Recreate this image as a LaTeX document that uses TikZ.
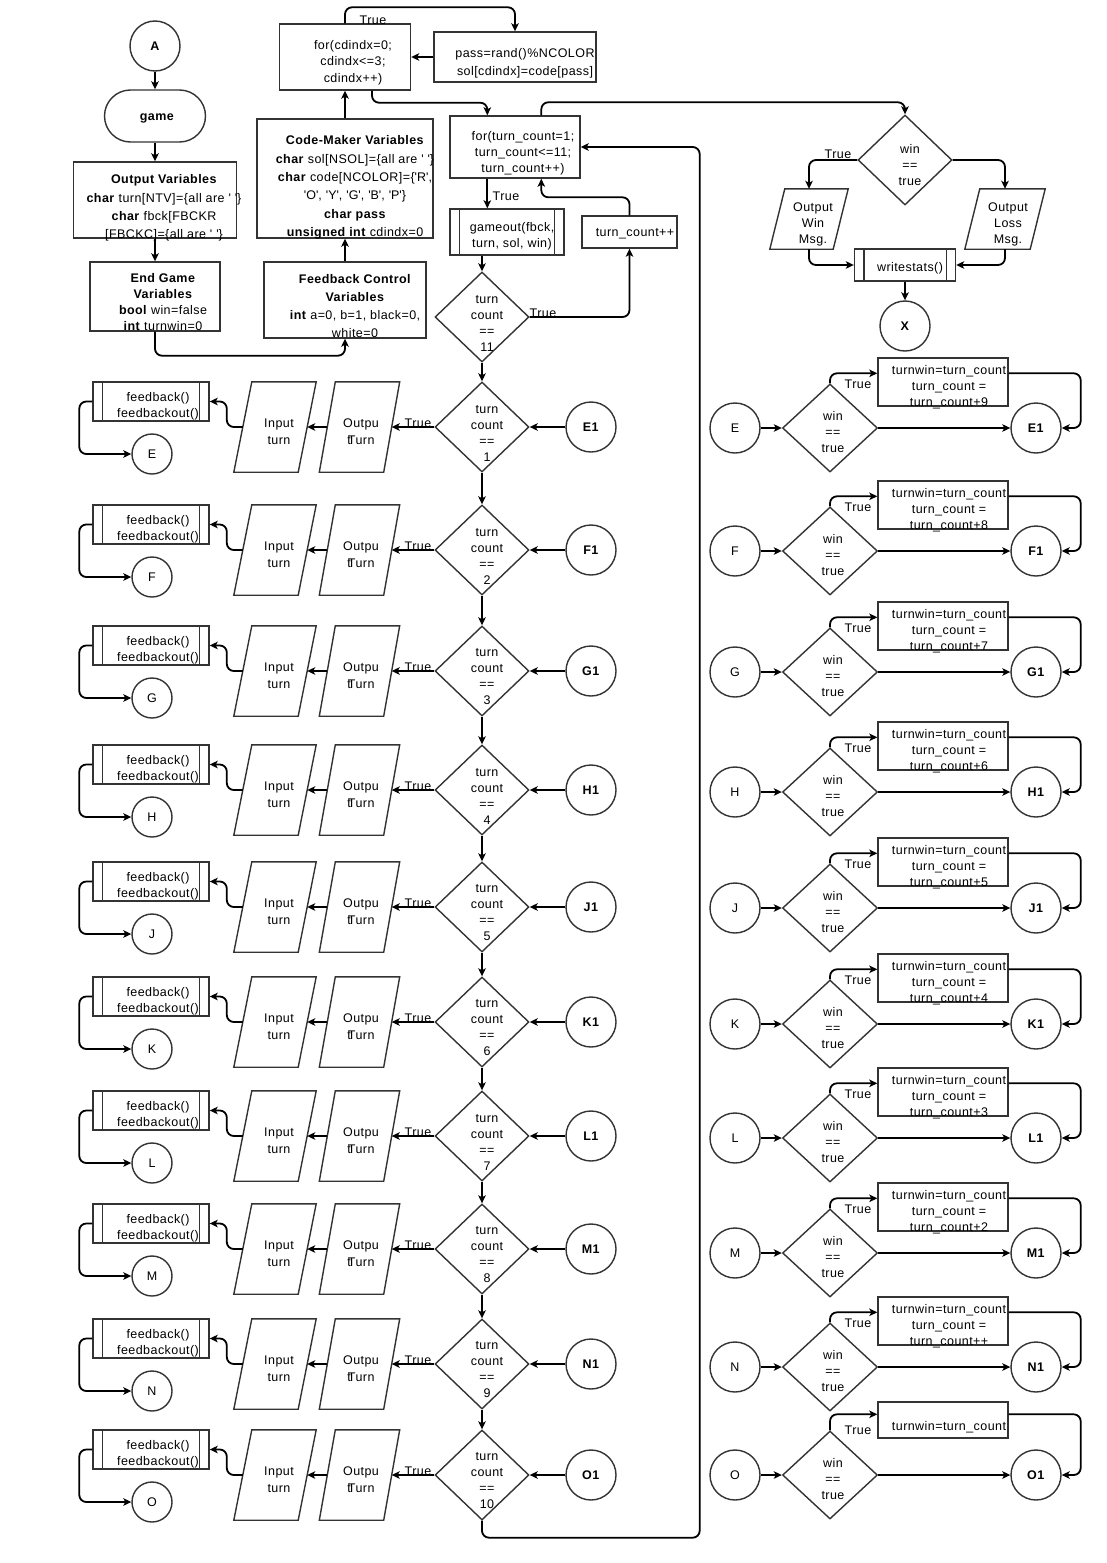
\documentclass[tikz,border=0pt]{standalone}
\usepackage{fontspec}
\setmainfont{Liberation Sans}[LetterSpace=3.5]
\usetikzlibrary{arrows.meta,calc,shapes.geometric}
\newcommand{\myq}{\textquotesingle}
\newcommand{\mypara}[2]{\draw[shpline,fill=white] ($(#1.north west)+(#2,0)$) -- ($(#1.north east)+(#2,0)$) -- ($(#1.south east)+(-#2,0)$) -- ($(#1.south west)+(-#2,0)$) -- cycle;}
\newcommand{\subr}[1]{\draw[shpline] ($(#1.north west)+(10,0)$) -- ($(#1.south west)+(10,0)$); \draw[shpline] ($(#1.north east)+(-10,0)$) -- ($(#1.south east)+(-10,0)$);}
\begin{document}
\begin{tikzpicture}[x=1pt,y=-1pt,
  every node/.style={font=\fontsize{12.5}{16}\selectfont},
  shpline/.style={draw=black!80,line width=1.4pt},
  shp/.style={shpline,fill=white,inner sep=0pt},
  sz/.style 2 args={minimum width=#1pt,minimum height=#2pt},
  helper/.style={inner sep=0pt,draw=none},
  circ/.style={shp,circle,minimum size=50pt},
  dia/.style={shp,diamond,minimum width=94pt,minimum height=90pt},
  txt/.style={align=center,inner sep=0pt},
  txtw/.style={txt,font=\fontsize{12.5}{18.3}\selectfont},
  con/.style={draw=black,line width=1.8pt,rounded corners=7pt},
  arr/.style={con,-{Stealth[length=8pt,width=7.5pt,inset=2pt]}},
  lbl/.style={inner sep=0pt}
]
\fill[white] (0,0) rectangle (1106,1563);
\useasboundingbox (0,0) rectangle (1106,1563);

% ---------- top left ----------
\node[circ] (A) at (155,46) {\textbf{A}};
\node[shp,rounded corners=26pt,sz={101}{52}] (game) at (155,116) {};
\node[txt] (gameT) at (157,118.5) {\textbf{game}};
\node[shp,sz={163}{76}] (ov) at (155,200) {};
\node[txtw] (ovT) at (164,208) {\textbf{Output Variables}\\\textbf{char} turn[NTV]=\{all are \myq\ \myq\}\\\textbf{char} fbck[FBCKR\\{[}FBCKC]=\{all are \myq\ \myq\}};
\node[shp,sz={130}{69}] (eg) at (155,296.5) {};
\node[txt] (egT) at (163,302) {\textbf{End Game}\\\textbf{Variables}\\\textbf{bool} win=false\\\textbf{int} turnwin=0};
\node[shp,sz={162}{76}] (fcv) at (345,300) {};
\node[txt,font=\fontsize{12.5}{18}\selectfont] (fcvT) at (355,306) {\textbf{Feedback Control}\\\textbf{Variables}\\\textbf{int} a=0, b=1, black=0,\\white=0};
\node[shp,sz={176}{119}] (cm) at (345,178.5) {};
\node[txtw] (cmT) at (355,187.5) {\textbf{Code-Maker Variables}\\\textbf{char} sol[NSOL]=\{all are \myq\ \myq\}\\\textbf{char} code[NCOLOR]=\{\myq R\myq,\\\myq O\myq, \myq Y\myq, \myq G\myq, \myq B\myq, \myq P\myq\}\\\textbf{char pass}\\\textbf{unsigned int} cdindx=0};
\node[shp,sz={131}{66}] (forc) at (345,57) {};
\node[txt,font=\fontsize{12.5}{16.5}\selectfont] (forcT) at (353,62.5) {for(cdindx=0;\\cdindx<=3;\\cdindx++)};
\node[shp,sz={162}{50}] (pass) at (515,57) {};
\node[txt,font=\fontsize{12.5}{18}\selectfont] (passT) at (525,63) {pass=rand()\%NCOLOR\\sol[cdindx]=code[pass]};

\draw[arr] (A.south) -- (game.north);
\draw[arr] (game.south) -- (ov.north);
\draw[arr] (ov.south) -- (eg.north);
\draw[arr] (eg.south) -- ++(0,24) -| (fcv.south);
\draw[arr] (fcv.north) -- (cm.south);
\draw[arr] (cm.north) -- (forc.south);
\draw[arr] (pass.west) -- (forc.east);
\draw[arr] (forc.north) -- ++(0,-16) -| (pass.north);
\node[lbl] (t0) at (373,20) {True};

% ---------- turn loop ----------
\node[shp,sz={130}{62}] (tf) at (515,147) {};
\node[txt] (tfT) at (523,153) {for(turn\_count=1;\\turn\_count<=11;\\turn\_count++)};
\draw[arr] ($(forc.south)+(27,0)$) -- ++(0,12) -| ($(tf.north west)+(38,0)$);
\node[shp,sz={114}{46}] (go) at (507,232) {};
\subr{go}
\node[txt] (goT) at (512,236) {gameout(fbck,\\turn, sol, win)};
\draw[arr] ($(tf.south west)+(38,0)$) -- ($(go.north west)+(38,0)$);
\node[lbl] (t1) at (506,196) {True};
\node[shp,sz={95}{32}] (tcp) at (629.5,232) {};
\node[txt] (tcpT) at (635,234) {turn\_count++};
\draw[arr] (tcp.north) -- ++(0,-18) -| ($(tf.south west)+(92,0)$);
\node[dia] (d11) at (482,317) {};
\node[txt] (d11T) at (487,323.5) {turn\\count\\==\\11};
\draw[arr] (d11.north |- go.south) -- (d11.north);
\draw[arr] (d11.east) -| (tcp.south);
\node[lbl] (t2) at (543,313) {True};

% ---------- top right ----------
\node[dia] (win) at (905,160) {};
\node[txt] (winT) at (910,165) {win\\==\\true};
\draw[arr] ($(tf.north west)+(92,0)$) -- ++(0,-13) -| (win.north);
\node[helper,sz={63}{60}] (ow) at (809,219) {};
\mypara{ow}{7.5}
\node[txt] (owT) at (813,224) {Output\\Win\\Msg.};
\node[helper,sz={65}{60}] (lo) at (1005,219) {};
\mypara{lo}{7.5}
\node[txt] (loT) at (1008,224) {Output\\Loss\\Msg.};
\draw[arr] (win.west) -| (ow.north);
\node[lbl] (t3) at (838,154) {True};
\draw[arr] (win.east) -| (lo.north);
\node[shp,sz={101}{32}] (ws) at (905,265) {};
\subr{ws}
\node[txt] (wsT) at (910,268) {writestats()};
\draw[arr] (ow.south) |- (ws.west);
\draw[arr] (lo.south) |- (ws.east);
\node[circ] (X) at (905,326) {\textbf{X}};
\draw[arr] (ws.south) -- (X.north);

% ---------- left rows ----------
\foreach \i/\yy/\ltr in {1/427/E,2/550/F,3/671/G,4/790/H,5/907/J,6/1022/K,7/1136/L,8/1249/M,9/1364/N,10/1475/O}{
  \node[dia] (dL\i) at (482,\yy) {};
  \node[txt] (dLT\i) at (487,\yy+6) {turn\\count\\==\\\i};
  \node[circ] (cL\i) at (591,\yy) {\textbf{\ltr1}};
  \draw[arr] (cL\i.west) -- (dL\i.east);
  \node[helper,sz={64}{90}] (oL\i) at (359.5,\yy) {};
  \mypara{oL\i}{8}
  \node[txt,font=\fontsize{12.5}{17}\selectfont] (oLT\i) at (361,\yy+5) {Outpu\\t\kern-3pt Turn};
  \draw[arr] (dL\i.west) -- (oL\i.east);
  \node[lbl] (tL\i) at (418,\yy-4) {True};
  \node[helper,sz={64}{90}] (iL\i) at (275,\yy) {};
  \mypara{iL\i}{9}
  \node[txt,font=\fontsize{12.5}{17}\selectfont] (iLT\i) at (279,\yy+5) {Input\\turn};
  \draw[arr] (oL\i.west) -- (iL\i.east);
  \node[shp,sz={116}{39}] (fL\i) at (151,\yy-25.5) {};
  \subr{fL\i}
  \node[txt] (fLT\i) at (158,\yy-20.5) {feedback()\\feedbackout()};
  \draw[arr] (iL\i.west) -- ++(-16,0) |- (fL\i.east);
  \node[circ,minimum size=40pt] (eL\i) at (152,\yy+27) {\ltr};
  \draw[arr] (fL\i.west) -- ++(-13,0) |- (eL\i.west);
}
\foreach \i in {1,...,9}{\pgfmathtruncatemacro\j{\i+1}\draw[arr] (dL\i.south) -- (dL\j.north);}
\draw[arr] (d11.south) -- (dL1.north);
\draw[arr] (dL10.south) -- ++(0,17) -| ($(tf.east)+(119,0)$) -- (tf.east);

% ---------- right rows ----------
\foreach \i/\yy/\ltr/\nn in {1/428/E/+9,2/551/F/+8,3/672/G/+7,4/792/H/+6,5/908/J/+5,6/1024/K/+4,7/1138/L/+3,8/1253/M/+2,9/1367/N/++}{
  \node[circ] (cR\i) at (735,\yy) {\ltr};
  \node[dia,minimum width=95pt,minimum height=88pt] (dR\i) at (830,\yy) {};
  \node[txt] (dRT\i) at (833,\yy+4) {win\\==\\true};
  \draw[arr] (cR\i.east) -- (dR\i.west);
  \node[circ] (cS\i) at (1036,\yy) {\textbf{\ltr1}};
  \draw[arr] (dR\i.east) -- (cS\i.west);
  \node[shp,sz={130}{48}] (bR\i) at (943,\yy-46) {};
  \node[txt] (bRT\i) at (949,\yy-41) {turnwin=turn\_count\\turn\_count =\\turn\_count\nn};
  \draw[arr] (dR\i.north) |- ($(bR\i.north west)+(0,16)$);
  \node[lbl] (tR\i) at (858,\yy-44) {True};
  \draw[arr] ($(bR\i.north east)+(0,16)$) -- ++(72,0) |- (cS\i.east);
}
\node[circ] (cR10) at (735,1475) {O};
\node[dia,minimum width=95pt,minimum height=88pt] (dR10) at (830,1475) {};
\node[txt] (dRT10) at (833,1479) {win\\==\\true};
\draw[arr] (cR10.east) -- (dR10.west);
\node[circ] (cS10) at (1036,1475) {\textbf{O1}};
\draw[arr] (dR10.east) -- (cS10.west);
\node[shp,sz={130}{36}] (bR10) at (943,1420) {};
\node[txt] (bRT10) at (949,1427) {turnwin=turn\_count};
\draw[arr] (dR10.north) |- ($(bR10.north west)+(0,13)$);
\node[lbl] (tR10) at (858,1430) {True};
\draw[arr] ($(bR10.north east)+(0,13)$) -- ++(72,0) |- (cS10.east);
\end{tikzpicture}
\end{document}
